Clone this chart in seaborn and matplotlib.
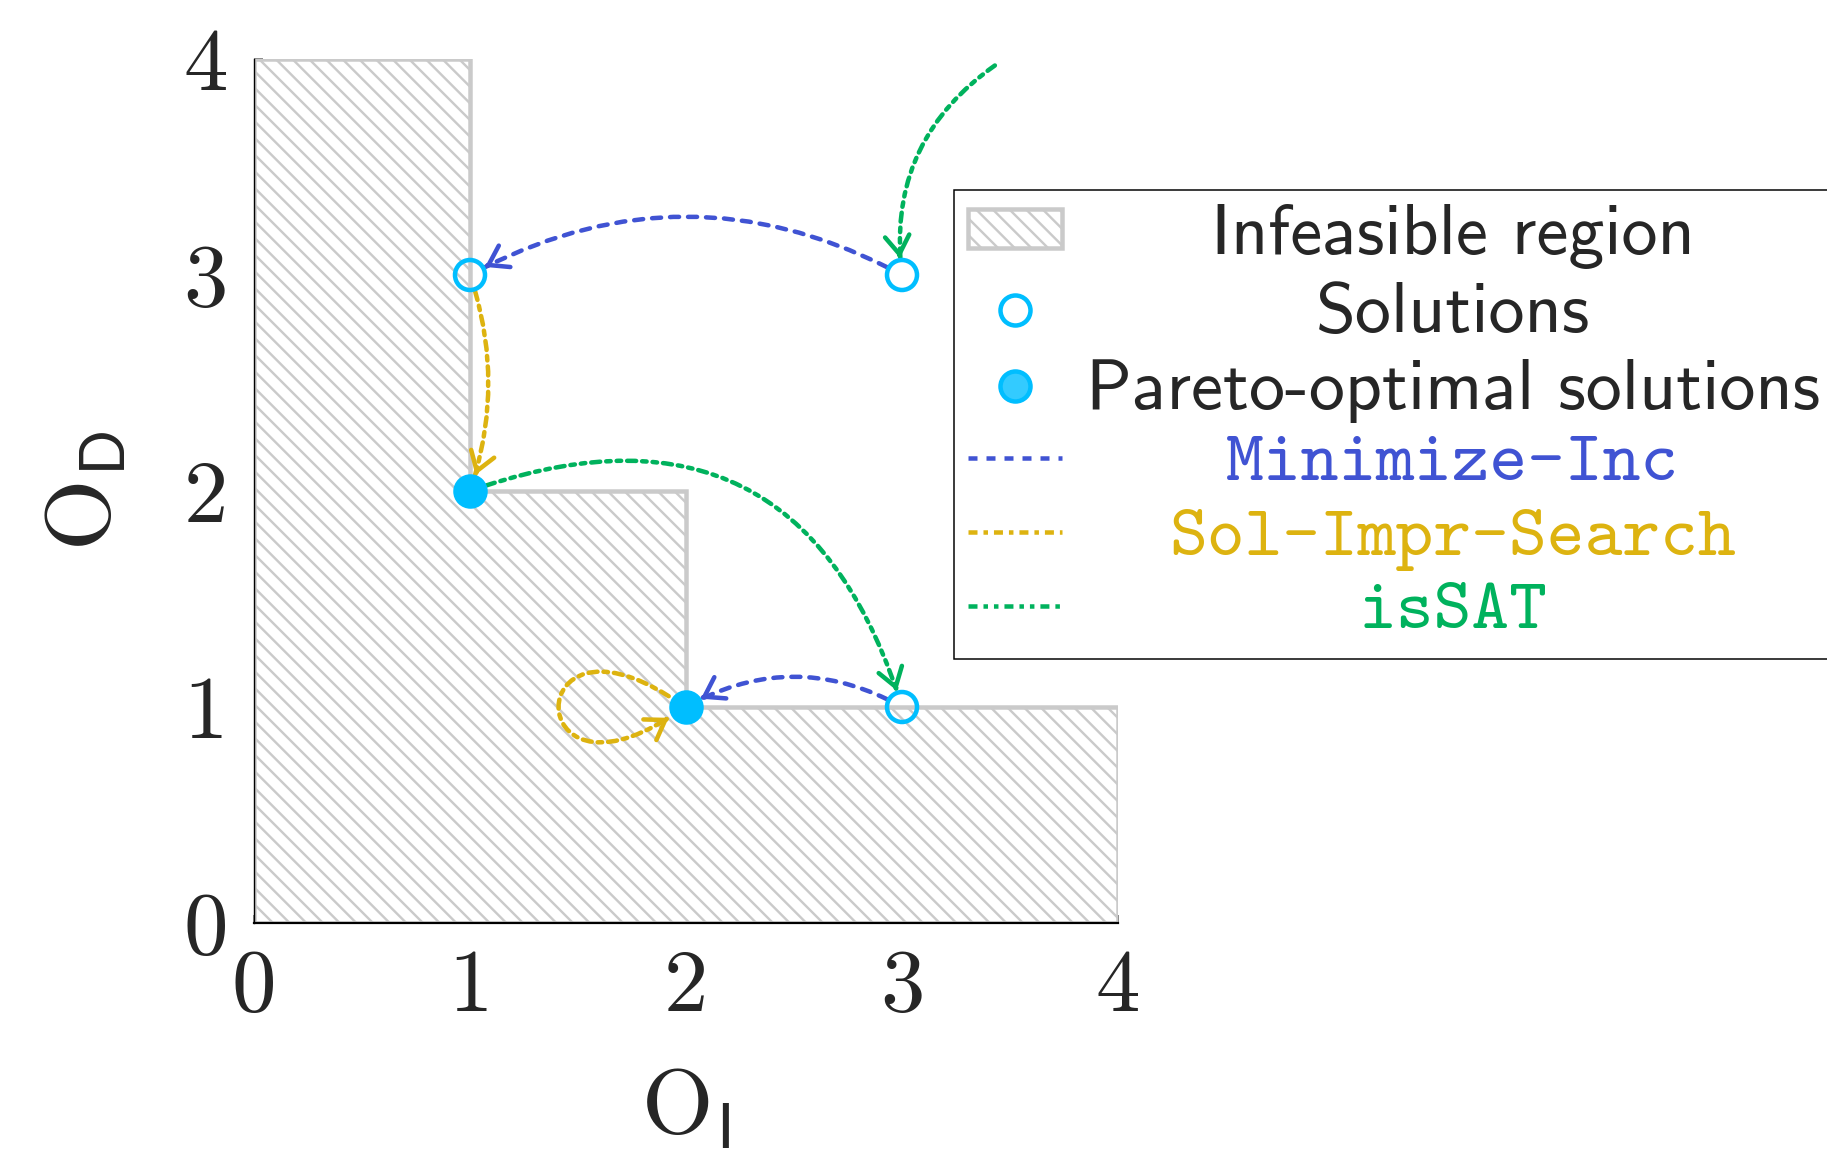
import os
import numpy as np
import matplotlib
matplotlib.use("Agg")
import matplotlib.pyplot as plt
import seaborn as sns
from matplotlib.font_manager import FontProperties
from matplotlib.patches import Patch, FancyArrowPatch
from matplotlib.lines import Line2D
from matplotlib.path import Path
from matplotlib.transforms import Affine2D

# ---------------- data ----------------
region_x = [0, 4, 4, 2, 2, 1, 1, 0]
region_y = [0, 0, 1, 1, 2, 2, 4, 4]
solutions_x = [1, 3, 3]
solutions_y = [3, 3, 1]
pareto_x = [1, 2]
pareto_y = [2, 1]
# arrows: (start, end, arc bend)
minimize_arrows = [((3, 3), (1, 3), 0.27), ((3, 1), (2, 1), 0.28)]
search_arrows = [((1, 3), (1, 2), -0.17)]
search_loop_node = (2, 1)
search_loop_dx = [-0.08, -0.76, -0.76, -0.08]
search_loop_dy = [0.05, 0.48, -0.48, -0.05]
issat_arrows = [((3.43, 3.97), (3, 3), 0.3), ((1, 2), (3, 1), -0.52)]
ticks = [0, 1, 2, 3, 4]
tick_labels = ["0", "1", "2", "3", "4"]
legend_labels = ["Infeasible region", "Solutions", "Pareto-optimal solutions",
                 "Minimize-Inc", "Sol-Impr-Search", "isSAT"]

# ---------------- style ----------------
BLUE, YELLOW, GREEN = "#4053d3", "#ddb310", "#00b25d"
CYAN, GRAY = "#00beff", "#cacaca"
LS_BLUE = (0, (2, 2))
LS_YELLOW = (0, (2, 1.33, 1, 1.33))
LS_GREEN = (0, (2, 1.33, 1, 1.33, 1, 1.33))
DPI = 100


def P(px):
    return px * 72.0 / DPI


LW = P(4.5)
MS = P(30)
PX_PER_UNIT = 216.0

sns.set_style("white")
plt.rcParams["mathtext.fontset"] = "cm"
plt.rcParams["hatch.linewidth"] = P(2.4)
plt.rcParams["hatch.color"] = GRAY

fdir = os.path.join(matplotlib.get_data_path(), "fonts", "ttf")
fp_ss = FontProperties(fname=os.path.join(fdir, "cmss10.ttf"), size=P(72))
fp_tt = FontProperties(fname=os.path.join(fdir, "cmtt10.ttf"), size=P(72))
fp_rm = FontProperties(fname=os.path.join(fdir, "cmr10.ttf"), size=P(89))

fig = plt.figure(figsize=(1827 / DPI, 1152 / DPI), dpi=DPI)
ax = fig.add_axes([254 / 1827, 1 - 923 / 1152, 864 / 1827, 864 / 1152])

ax.fill(region_x, region_y, facecolor="white", edgecolor=GRAY, hatch="\\\\",
        linewidth=LW, zorder=1)

SHRINK = P(17)


def head(tip, direction, color, shrinkB):
    t = direction / np.linalg.norm(direction)
    back = shrinkB / 72 * DPI / PX_PER_UNIT + 0.012
    ax.annotate("", xy=tuple(tip), xytext=tuple(tip - t * back),
                arrowprops=dict(arrowstyle="->,head_length=0.48,head_width=0.32",
                                mutation_scale=P(38), color=color, lw=LW,
                                linestyle="-", shrinkA=0, shrinkB=shrinkB,
                                capstyle="round", joinstyle="round"),
                zorder=2, annotation_clip=False)


def arc_arrow(p0, p1, rad, color, ls, shrinkA=SHRINK, shrinkB=SHRINK):
    ax.annotate("", xy=p1, xytext=p0,
                arrowprops=dict(arrowstyle="-", connectionstyle=f"arc3,rad={rad}",
                                color=color, lw=LW, linestyle=ls,
                                shrinkA=shrinkA, shrinkB=shrinkB),
                zorder=2, annotation_clip=False)
    P0, P2 = np.array(p0, float), np.array(p1, float)
    d = P2 - P0
    C = (P0 + P2) / 2 + rad * np.array([d[1], -d[0]])
    head(P2, P2 - C, color, shrinkB)


for p0, p1, r in minimize_arrows:
    arc_arrow(p0, p1, r, BLUE, LS_BLUE)
for p0, p1, r in search_arrows:
    arc_arrow(p0, p1, r, YELLOW, LS_YELLOW)
for i, (p0, p1, r) in enumerate(issat_arrows):
    arc_arrow(p0, p1, r, GREEN, LS_GREEN, shrinkA=0 if i == 0 else SHRINK)

# self loop of Sol-Impr-Search
lx = np.array(search_loop_node[0]) + np.array(search_loop_dx)
ly = np.array(search_loop_node[1]) + np.array(search_loop_dy)
verts = list(zip(lx, ly))
loop = FancyArrowPatch(path=Path(verts, [Path.MOVETO, Path.CURVE4, Path.CURVE4, Path.CURVE4]),
                       arrowstyle="-", color=YELLOW, lw=LW, linestyle=LS_YELLOW, zorder=2)
ax.add_patch(loop)
head(np.array(verts[-1]), np.array(verts[-1]) - np.array(verts[-2]), YELLOW, 0)

# points
sns.scatterplot(x=solutions_x, y=solutions_y, ax=ax, marker="o", s=MS ** 2,
                facecolor="none", edgecolor=CYAN, linewidth=LW, zorder=4)
sns.scatterplot(x=pareto_x, y=pareto_y, ax=ax, marker="o", s=MS ** 2,
                color=CYAN, edgecolor=CYAN, linewidth=LW, zorder=4)

# axes
ax.set_xlim(0, 4)
ax.set_ylim(0, 4)
ax.set_aspect("equal")
ax.set_xticks(ticks)
ax.set_yticks(ticks)
ax.set_xticklabels(tick_labels, fontproperties=fp_rm)
ax.set_yticklabels(tick_labels, fontproperties=fp_rm)
ax.tick_params(direction="in", length=P(8.5), width=P(1.9), color="#888888", pad=P(26),
               bottom=True, left=True)
for s in ["top", "right"]:
    ax.spines[s].set_visible(False)
ax.spines["left"].set_color("black")
ax.spines["left"].set_linewidth(P(1.4))
ax.spines["bottom"].set_color("black")
ax.spines["bottom"].set_linewidth(P(2.2))
ax.spines["left"].set_zorder(3)
ax.spines["bottom"].set_zorder(3)
ax.set_xlabel(r"$\mathrm{O}_{\mathsf{I}}$", fontsize=P(92), labelpad=P(34))
ax.set_ylabel(r"$\mathrm{O}_{\mathsf{D}}$", fontsize=P(92), labelpad=P(54))

# legend
handles = [
    Patch(facecolor="white", edgecolor=GRAY, hatch="\\\\", linewidth=LW),
    Line2D([], [], ls="none", marker="o", markersize=MS, markerfacecolor="none",
           markeredgecolor=CYAN, markeredgewidth=LW),
    Line2D([], [], ls="none", marker="o", markersize=MS,
           markerfacecolor=(0, 0.745, 1, 0.8), markeredgecolor=CYAN, markeredgewidth=LW),
    Line2D([], [], color=BLUE, lw=LW, ls=LS_BLUE),
    Line2D([], [], color=YELLOW, lw=LW, ls=LS_YELLOW),
    Line2D([], [], color=GREEN, lw=LW, ls=LS_GREEN),
]
leg = ax.legend(handles, legend_labels, prop=fp_ss, loc="upper left",
                bbox_to_anchor=(954 / 1827, 1 - 190 / 1152), bbox_transform=fig.transFigure,
                borderaxespad=0, frameon=True, fancybox=False, framealpha=1,
                edgecolor="black", handlelength=1.3, handleheight=0.45,
                handletextpad=0.33, borderpad=0.2, labelspacing=0.175)
leg.get_frame().set_linewidth(P(1.5))
texts = leg.get_texts()
for t, c in zip(texts[3:], [BLUE, YELLOW, GREEN]):
    t.set_fontproperties(fp_tt)
    t.set_color(c)

# center legend labels in their column
fig.canvas.draw()
r = fig.canvas.get_renderer()
widths = [t.get_window_extent(r).width for t in texts]
wmax = max(widths)
for t, w in zip(texts, widths):
    t.set_transform(t.get_transform() + Affine2D().translate((wmax - w) / 2, 0))

fig.savefig("out.png", dpi=DPI)
